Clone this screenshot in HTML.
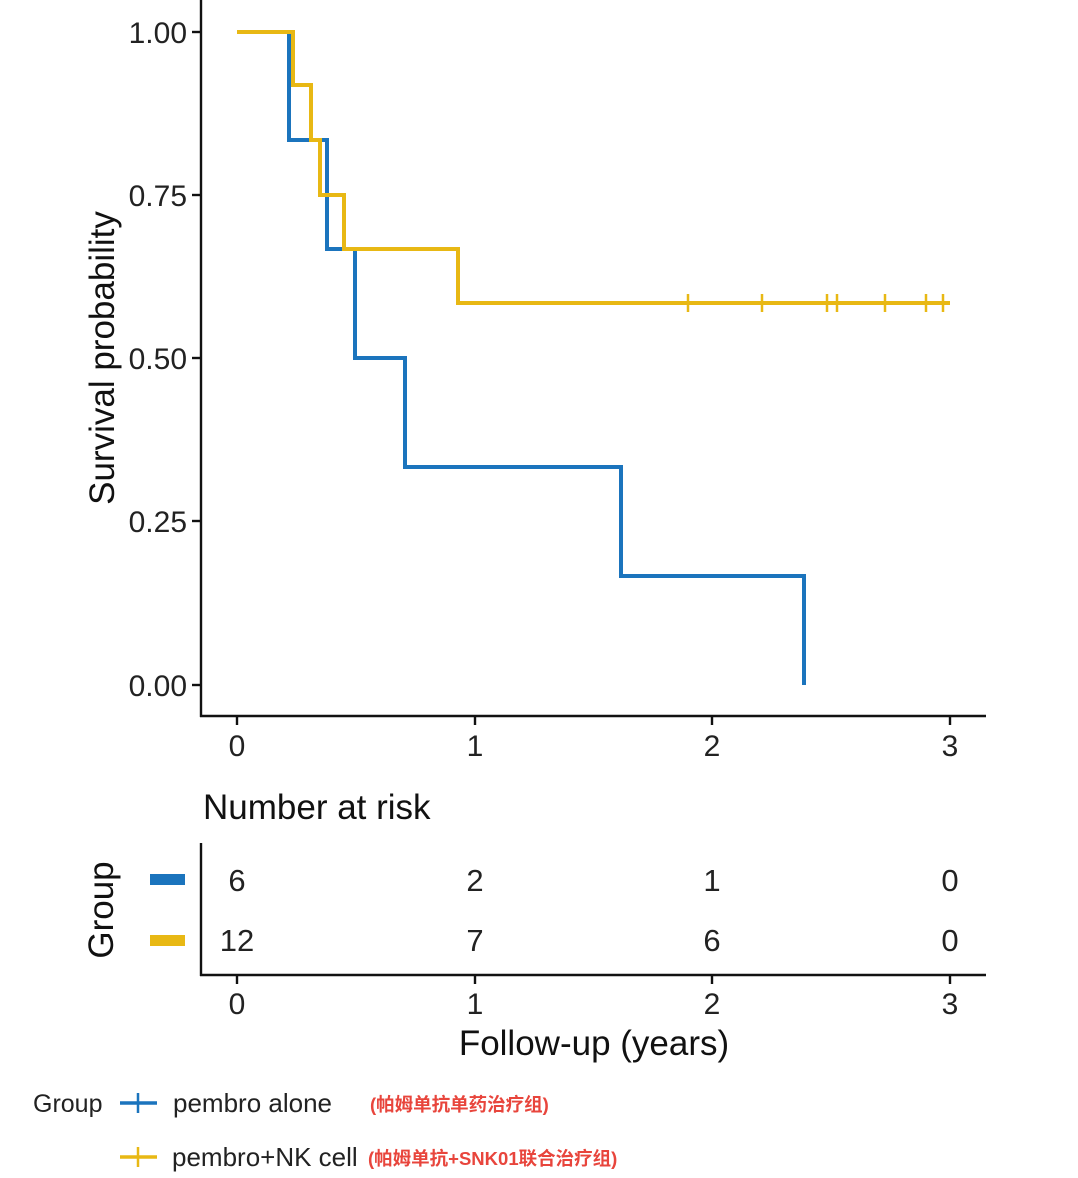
<!DOCTYPE html>
<html><head><meta charset="utf-8"><style>
html,body{margin:0;padding:0;background:#fff;}
svg{display:block;font-family:"Liberation Sans","Noto Sans CJK SC",sans-serif;}
</style></head><body>
<svg width="1078" height="1178" viewBox="0 0 1078 1178" xmlns="http://www.w3.org/2000/svg">
<rect width="1078" height="1178" fill="#fff"/>
<g stroke="#111" stroke-width="2.4" fill="none">
<line x1="201" y1="0" x2="201" y2="717"/>
<line x1="200" y1="716" x2="986" y2="716"/>
<line x1="192" y1="32" x2="201" y2="32"/><line x1="192" y1="195" x2="201" y2="195"/>
<line x1="192" y1="358" x2="201" y2="358"/><line x1="192" y1="521" x2="201" y2="521"/>
<line x1="192" y1="685" x2="201" y2="685"/>
<line x1="237" y1="716" x2="237" y2="725"/><line x1="475" y1="716" x2="475" y2="725"/>
<line x1="712" y1="716" x2="712" y2="725"/><line x1="950" y1="716" x2="950" y2="725"/>
</g>
<g font-size="30" fill="#222" text-anchor="end">
<text x="187" y="43">1.00</text><text x="187" y="206">0.75</text>
<text x="187" y="369">0.50</text><text x="187" y="532">0.25</text><text x="187" y="696">0.00</text>
</g>
<g font-size="30" fill="#222" text-anchor="middle">
<text x="237" y="756">0</text><text x="475" y="756">1</text><text x="712" y="756">2</text><text x="950" y="756">3</text>
</g>
<text transform="translate(114,358) rotate(-90)" font-size="35" fill="#111" text-anchor="middle">Survival probability</text>
<polyline fill="none" stroke="#1b74bd" stroke-width="4" points="237,32 289,32 289,140 327,140 327,249 355,249 355,358 405,358 405,467 621,467 621,576 804,576 804,685"/>
<polyline fill="none" stroke="#e8b814" stroke-width="4" points="237,32 293,32 293,85 311,85 311,140 320,140 320,195 344,195 344,249 458,249 458,303 950,303"/>
<g stroke="#e8b814" stroke-width="2.5">
<line x1="688" y1="294" x2="688" y2="312"/><line x1="762" y1="294" x2="762" y2="312"/>
<line x1="827" y1="294" x2="827" y2="312"/><line x1="837" y1="294" x2="837" y2="312"/>
<line x1="885" y1="294" x2="885" y2="312"/><line x1="926" y1="294" x2="926" y2="312"/>
<line x1="943" y1="294" x2="943" y2="312"/>
</g>
<text x="203" y="819" font-size="35" fill="#111">Number at risk</text>
<g stroke="#111" stroke-width="2.4">
<line x1="201" y1="843" x2="201" y2="976"/>
<line x1="200" y1="975" x2="986" y2="975"/>
<line x1="237" y1="975" x2="237" y2="984"/><line x1="475" y1="975" x2="475" y2="984"/>
<line x1="712" y1="975" x2="712" y2="984"/><line x1="950" y1="975" x2="950" y2="984"/>
</g>
<rect x="150" y="874" width="35" height="11" fill="#1b74bd"/>
<rect x="150" y="935" width="35" height="11" fill="#e8b814"/>
<text transform="translate(113,910) rotate(-90)" font-size="35" fill="#111" text-anchor="middle">Group</text>
<g font-size="31" fill="#222" text-anchor="middle">
<text x="237" y="891">6</text><text x="475" y="891">2</text><text x="712" y="891">1</text><text x="950" y="891">0</text>
<text x="237" y="951">12</text><text x="475" y="951">7</text><text x="712" y="951">6</text><text x="950" y="951">0</text>
</g>
<g font-size="30" fill="#222" text-anchor="middle">
<text x="237" y="1014">0</text><text x="475" y="1014">1</text><text x="712" y="1014">2</text><text x="950" y="1014">3</text>
</g>
<text x="594" y="1055" font-size="35" fill="#111" text-anchor="middle">Follow-up (years)</text>
<text x="33" y="1112" font-size="25" fill="#222">Group</text>
<line x1="120" y1="1103" x2="157" y2="1103" stroke="#1b74bd" stroke-width="3.5"/>
<line x1="138" y1="1093" x2="138" y2="1113" stroke="#1b74bd" stroke-width="2.5"/>
<text x="173" y="1112" font-size="26" fill="#222">pembro alone</text>
<text x="370" y="1111" font-size="18.5" font-weight="bold" fill="#e8453c">(帕姆单抗单药治疗组)</text>
<line x1="120" y1="1157" x2="157" y2="1157" stroke="#e8b814" stroke-width="3.5"/>
<line x1="138" y1="1147" x2="138" y2="1167" stroke="#e8b814" stroke-width="2.5"/>
<text x="172" y="1166" font-size="26" fill="#222">pembro+NK cell</text>
<text x="368" y="1165" font-size="18.5" font-weight="bold" fill="#e8453c">(帕姆单抗+SNK01联合治疗组)</text>
</svg>
</body></html>
